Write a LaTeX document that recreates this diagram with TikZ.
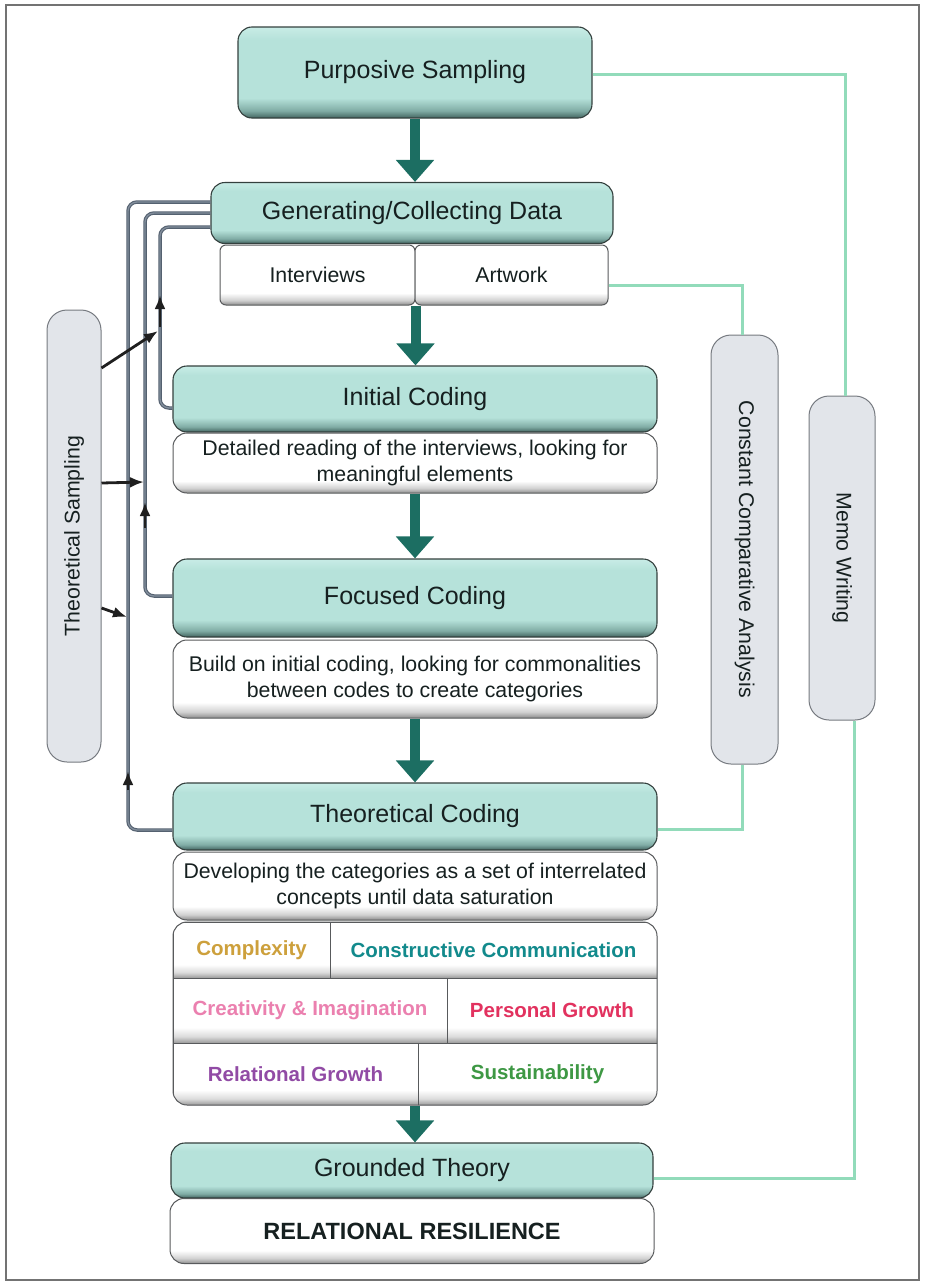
\documentclass[tikz,border=0pt]{standalone}
\usepackage{fontspec}
\setmainfont{Liberation Sans}
\usetikzlibrary{arrows.meta,calc}

\definecolor{tealdeep}{RGB}{66,100,96}
\definecolor{tealshade}{RGB}{128,172,165}
\definecolor{tealfill}{RGB}{182,226,218}
\definecolor{teallite}{RGB}{200,236,230}
\definecolor{tealedge}{RGB}{52,64,62}
\definecolor{arrowteal}{RGB}{28,110,98}
\definecolor{mintline}{RGB}{146,219,186}
\definecolor{slateline}{RGB}{84,97,112}
\definecolor{slatelight}{RGB}{130,142,156}
\definecolor{pillfill}{RGB}{226,229,234}
\definecolor{pilledge}{RGB}{118,122,128}
\definecolor{boxedge}{RGB}{88,90,92}
\definecolor{titletext}{RGB}{22,32,32}
\definecolor{catgold}{RGB}{205,160,60}
\definecolor{catteal}{RGB}{18,138,140}
\definecolor{catpink}{RGB}{235,128,175}
\definecolor{catred}{RGB}{226,50,95}
\definecolor{catpurple}{RGB}{145,75,165}
\definecolor{catgreen}{RGB}{62,152,68}

\pgfdeclareverticalshading{tealgrad}{100bp}{color(0bp)=(tealdeep); color(25bp)=(tealdeep); color(29bp)=(tealshade); color(36bp)=(tealfill); color(68bp)=(tealfill); color(75bp)=(teallite); color(100bp)=(teallite)}
\pgfdeclareverticalshading{whitegrad}{100bp}{color(0bp)=(black!45); color(25bp)=(black!45); color(29bp)=(black!18); color(35bp)=(white); color(100bp)=(white)}
\pgfdeclareverticalshading{cellgrad}{100bp}{color(0bp)=(black!40); color(25bp)=(black!40); color(30bp)=(black!14); color(37bp)=(white); color(100bp)=(white)}

\begin{document}
\begin{tikzpicture}[x=1pt,y=-1pt,
    tealbox/.style={draw=tealedge, line width=1.1pt, rounded corners=14pt, shading=tealgrad, inner sep=0pt, text=titletext, font=\fontsize{25}{30}\selectfont},
    whitebox/.style={draw=boxedge, line width=1pt, rounded corners=14pt, shading=whitegrad, inner sep=0pt, align=center, text=titletext, font=\fontsize{21.3}{25.5}\selectfont},
    pill/.style={draw=pilledge, line width=1pt, rounded corners=20pt, fill=pillfill, inner sep=0pt, text=titletext, font=\fontsize{21.3}{25}\selectfont},
    cell/.style={draw=boxedge, line width=0.8pt, shading=cellgrad, inner sep=0pt, font=\bfseries\fontsize{20.5}{24}\selectfont},
    flow/.style={draw=arrowteal, line width=10pt, -{Triangle[width=37pt,length=22pt]}},
    loopback/.style={draw=slateline, double=slatelight, double distance=1.3pt, line width=1.1pt, rounded corners=9pt},
    mint/.style={draw=mintline, line width=3pt},
    sample/.style={draw=black!88, line width=2.8pt, -{Latex[length=14pt,width=11pt]}}]
    \useasboundingbox (0,0) rectangle (924,1282);
    \draw [black!55, line width=1.5pt] (6,5) rectangle (919,1280);

    \node [tealbox, minimum width=354pt, minimum height=91pt] (ps) at (415,72.5) {Purposive Sampling};
    \node [tealbox, minimum width=402pt, minimum height=61pt] (gcd) at (412,213) {Generating/Collecting Data};
    \node [whitebox, rounded corners=6pt, minimum width=195pt, minimum height=60pt] (int) at (317.5,275) {Interviews};
    \node [whitebox, rounded corners=6pt, minimum width=193pt, minimum height=60pt] (art) at (511.5,275) {Artwork};
    \node [tealbox, minimum width=484pt, minimum height=66pt] (ic) at (415,399) {Initial Coding};
    \node [whitebox, minimum width=484pt, minimum height=60pt] (icd) at (415,463) {Detailed reading of the interviews, looking for\\meaningful elements};
    \node [tealbox, minimum width=484pt, minimum height=78pt] (fc) at (415,598) {Focused Coding};
    \node [whitebox, minimum width=484pt, minimum height=78pt] (fcd) at (415,679) {Build on initial coding, looking for commonalities\\between codes to create categories};
    \node [tealbox, minimum width=484pt, minimum height=67pt] (tc) at (415,816.5) {Theoretical Coding};
    \node [whitebox, minimum width=484pt, minimum height=68pt] (tcd) at (415,886) {Developing the categories as a set of interrelated\\concepts until data saturation};

    \begin{scope}
        \clip [rounded corners=14pt] (173,922) rectangle (657,1105);
        \node [cell, minimum width=157pt, minimum height=56pt, text=catgold] (cx) at (251.5,950) {Complexity};
        \node [cell, minimum width=327pt, minimum height=56pt, text=catteal] (cc) at (493.5,950) {Constructive Communication};
        \node [cell, minimum width=274pt, minimum height=65pt, text=catpink] (ci) at (310,1010.5) {Creativity \& Imagination};
        \node [cell, minimum width=210pt, minimum height=65pt, text=catred] (pg) at (552,1010.5) {Personal Growth};
        \node [cell, minimum width=245pt, minimum height=62pt, text=catpurple] (rg) at (295.5,1074) {Relational Growth};
        \node [cell, minimum width=239pt, minimum height=62pt, text=catgreen] (su) at (537.5,1074) {Sustainability};
    \end{scope}
    \node [draw=boxedge, line width=1pt, rounded corners=14pt, minimum width=484pt, minimum height=183pt, inner sep=0pt] (cat) at (415,1013.5) {};

    \node [tealbox, minimum width=482pt, minimum height=55pt] (gt) at (412,1170.5) {Grounded Theory};
    \node [whitebox, minimum width=484pt, minimum height=65pt, font=\bfseries\fontsize{23.5}{28}\selectfont] (rr) at (412,1231) {RELATIONAL RESILIENCE};

    \node [pill, rotate=90, minimum width=452pt, minimum height=54pt] (ts) at (74,536) {Theoretical Sampling};
    \node [pill, rotate=-90, minimum width=429pt, minimum height=67pt] (cca) at (744.5,549.5) {Constant Comparative Analysis};
    \node [pill, rotate=-90, minimum width=324pt, minimum height=66pt] (memo) at (842,558) {Memo Writing};

    \draw [flow] (ps.south) -- (ps.south |- gcd.north);
    \draw [flow] (int.south east) -- (int.south east |- ic.north);
    \draw [flow] (icd.south) -- (fc.north);
    \draw [flow] (fcd.south) -- (tc.north);
    \draw [flow] (cat.south) -- (cat.south |- gt.north);

    \draw [loopback] ([yshift=-9pt]ic.west) -| (160,227) -- ([yshift=-14pt]gcd.west);
    \draw [loopback] ([yshift=2pt]fc.west) -| (145,213) -- (gcd.west);
    \draw [loopback] ([yshift=-13.5pt]tc.west) -| (128,202) -- ([yshift=11pt]gcd.west);
    \draw [sample] (160,327) -- (160,295);
    \draw [sample] (145,528) -- (145,502);
    \draw [sample] (128,790) -- (128,771);

    \draw [sample] ([yshift=168pt]ts.south) -- (158,331);
    \draw [sample] ([yshift=53pt]ts.south) -- (144,482);
    \draw [sample] ([yshift=-72pt]ts.south) -- (127,617);

    \draw [mint] ([yshift=-2pt]ps.east) -| ([xshift=3pt]memo.west);
    \draw [mint] ([xshift=12pt]memo.east) |- ([yshift=-8pt]gt.east);
    \draw [mint] ([yshift=-10pt]art.east) -| ([xshift=-2pt]cca.west);
    \draw [mint] ([xshift=-2pt]cca.east) |- ([yshift=-13pt]tc.east);
\end{tikzpicture}
\end{document}
